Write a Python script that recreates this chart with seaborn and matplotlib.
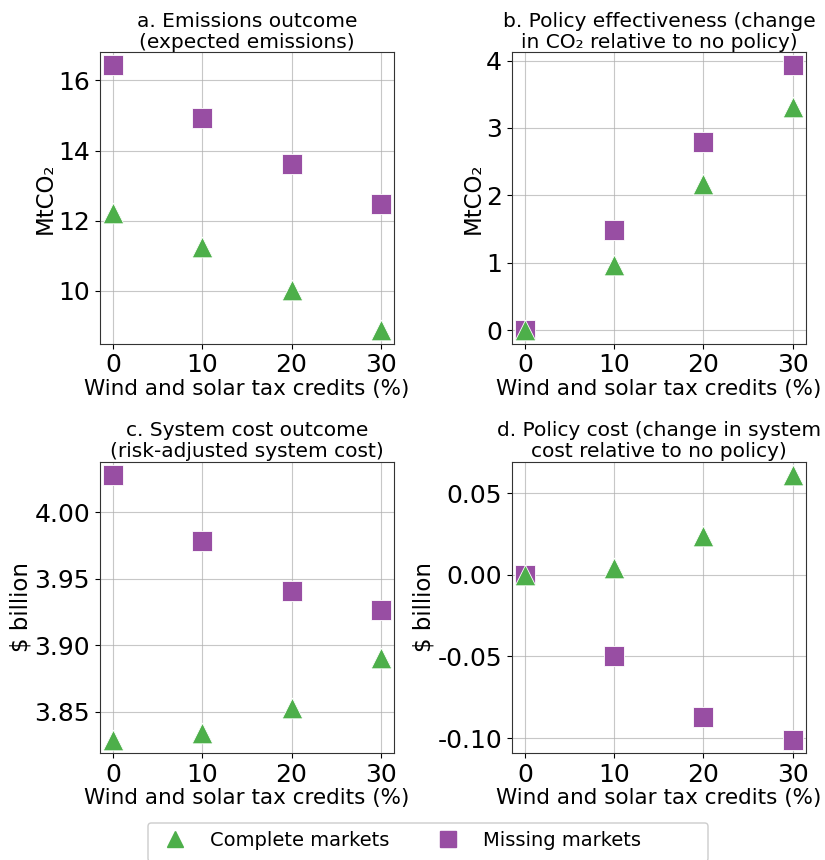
import matplotlib
matplotlib.use("Agg")
import matplotlib.pyplot as plt
import seaborn as sns
import pandas as pd
from matplotlib.lines import Line2D
from matplotlib.patches import FancyBboxPatch

credits = [0, 10, 20, 30]

a_complete = [12.23, 11.25, 10.04, 8.88]
a_missing = [16.43, 14.93, 13.63, 12.48]

b_complete = [0.0, 0.975, 2.17, 3.31]
b_missing = [0.0, 1.49, 2.79, 3.93]

c_complete = [3.829, 3.834, 3.853, 3.8905]
c_missing = [4.028, 3.978, 3.9408, 3.9265]

d_complete = [0.0, 0.0041, 0.0239, 0.0612]
d_missing = [0.0, -0.050, -0.0868, -0.101]

titles = [
    "a. Emissions outcome\n(expected emissions)",
    "b. Policy effectiveness (change\nin CO\u2082 relative to no policy)",
    "c. System cost outcome\n(risk-adjusted system cost)",
    "d. Policy cost (change in system\ncost relative to no policy)",
]
ylabels = ["MtCO\u2082", "MtCO\u2082", "$ billion", "$ billion"]
xlabel = "Wind and solar tax credits (%)"
series_names = ["Complete markets", "Missing markets"]

GREEN = "#4daf4a"
PURPLE = "#984ea3"

plt.rcParams["axes.unicode_minus"] = False
plt.rcParams["font.family"] = ["DejaVu Sans"]

W, H = 825, 860
fig, axes = plt.subplots(2, 2, figsize=(W / 100, H / 100), dpi=100)
fig.subplots_adjust(left=0.121, right=0.977, top=0.9395, bottom=0.1244,
                    wspace=0.40, hspace=0.405)

panels = [(a_complete, a_missing), (b_complete, b_missing),
          (c_complete, c_missing), (d_complete, d_missing)]

for ax, (comp, miss), title, yl in zip(axes.flat, panels, titles, ylabels):
    ax.grid(True, color="#b0b0b0", linewidth=0.8, alpha=0.7, zorder=0)
    ax.set_axisbelow(True)
    df_m = pd.DataFrame({"x": credits, "y": miss})
    df_c = pd.DataFrame({"x": credits, "y": comp})
    sns.scatterplot(data=df_m, x="x", y="y", marker="s", s=220, color=PURPLE,
                    edgecolor="white", linewidth=0.6, ax=ax, legend=False, zorder=3)
    sns.scatterplot(data=df_c, x="x", y="y", marker="^", s=220, color=GREEN,
                    edgecolor="white", linewidth=0.6, ax=ax, legend=False, zorder=3)
    ax.set_xticks(credits)
    ax.set_title(title, fontsize=14.5, linespacing=1.15, pad=3)
    ax.set_xlabel(xlabel, fontsize=15.5, labelpad=1)
    ax.set_ylabel(yl, fontsize=16.5, labelpad=1)
    ax.tick_params(axis="both", labelsize=18)
    for sp in ax.spines.values():
        sp.set_color("#333333")

axes[0, 0].set_yticks([10, 12, 14, 16])
axes[0, 1].set_yticks([0, 1, 2, 3, 4])
axes[1, 0].set_yticks([3.85, 3.90, 3.95, 4.00])
axes[1, 0].set_yticklabels(["3.85", "3.90", "3.95", "4.00"])
axes[1, 1].set_yticks([-0.10, -0.05, 0.0, 0.05])
axes[1, 1].set_yticklabels(["-0.10", "-0.05", "0.00", "0.05"])

handles = [
    Line2D([], [], linestyle="none", marker="^", markersize=12, color=GREEN),
    Line2D([], [], linestyle="none", marker="s", markersize=12, color=PURPLE),
]
fig.legend(handles, series_names, loc="upper left", ncol=2,
           bbox_to_anchor=(148 / W, 1 - 823 / H), borderaxespad=0,
           fontsize=14, frameon=False)

frame = FancyBboxPatch((148 / W, -0.002), 560 / W, (860 - 823) / H + 0.002,
                       boxstyle="round,pad=0,rounding_size=0.004",
                       transform=fig.transFigure, facecolor="white",
                       edgecolor="0.8", linewidth=1.0, zorder=-1)
fig.patches.append(frame)

fig.savefig("out.png", dpi=100)
